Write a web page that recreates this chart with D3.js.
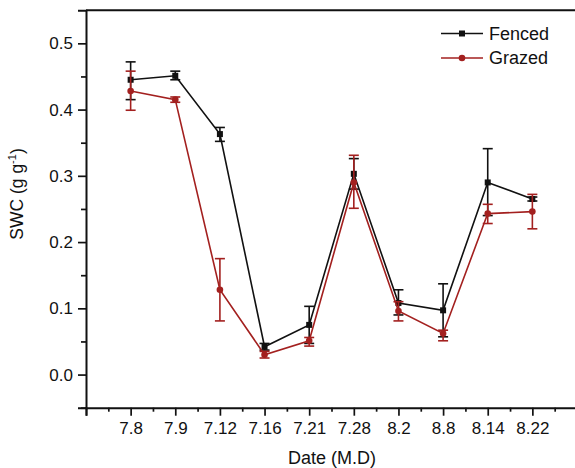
<!DOCTYPE html>
<html>
<head>
<meta charset="utf-8">
<script src="https://cdn.jsdelivr.net/npm/d3@7"></script>
<style>
  body { margin: 0; background: #fff; }
  text { font-family: "Liberation Sans", Arial, sans-serif; fill: #111; }
</style>
</head>
<body>
<svg id="chart" width="575" height="468"></svg>
<script>
// sampling dates (month.day)
var dates = ["7.8", "7.9", "7.12", "7.16", "7.21", "7.28", "8.2", "8.8", "8.14", "8.22"];

// SWC means and error bar ends
var fenced      = [0.445, 0.451, 0.363, 0.042, 0.075, 0.303, 0.108, 0.097, 0.290, 0.265];
var fencedHigh  = [0.472, 0.458, 0.373, 0.047, 0.103, 0.326, 0.128, 0.137, 0.341, 0.268];
var fencedLow   = [0.415, 0.445, 0.352, 0.037, 0.047, 0.280, 0.090, 0.057, 0.240, 0.262];

var grazed      = [0.428, 0.415, 0.128, 0.030, 0.051, 0.290, 0.096, 0.062, 0.243, 0.246];
var grazedHigh  = [0.458, 0.419, 0.175, 0.035, 0.056, 0.331, 0.110, 0.067, 0.257, 0.272];
var grazedLow   = [0.399, 0.411, 0.081, 0.025, 0.043, 0.251, 0.081, 0.051, 0.228, 0.220];

var yTicks = [0.0, 0.1, 0.2, 0.3, 0.4, 0.5];

var series = [
  {name: "Fenced", color: "#111111", shape: "square", mean: fenced, hi: fencedHigh, lo: fencedLow},
  {name: "Grazed", color: "#a3201f", shape: "circle", mean: grazed, hi: grazedHigh, lo: grazedLow}
];

var svg = d3.select("#chart");

var x = d3.scaleLinear().domain([-1, 10]).range([86, 577]);
var y = d3.scaleLinear().domain([-0.05, 0.55]).range([407.7, 10.2]);

// top frame line
svg.append("line")
  .attr("x1", 86).attr("x2", 575)
  .attr("y1", y(0.55)).attr("y2", y(0.55))
  .attr("stroke", "#111").attr("stroke-width", 2);

// x axis: major ticks at every date, minor ticks between
var xAxis = svg.append("g").attr("transform", "translate(0," + y(-0.05) + ")");
xAxis.call(d3.axisBottom(x)
  .tickValues(d3.range(-1, 11))
  .tickSize(8).tickPadding(6)
  .tickFormat(i => dates[i] || ""));
svg.append("g").attr("transform", "translate(0," + y(-0.05) + ")")
  .call(d3.axisBottom(x).tickValues(d3.range(-0.5, 10.5, 1)).tickSize(4).tickFormat(""))
  .select(".domain").remove();

// y axis
var yAxis = svg.append("g").attr("transform", "translate(86,0)");
yAxis.call(d3.axisLeft(y).tickValues(yTicks).tickSize(8).tickPadding(5).tickFormat(d3.format(".1f")));
svg.append("g").attr("transform", "translate(86,0)")
  .call(d3.axisLeft(y).tickValues([-0.05, 0.05, 0.15, 0.25, 0.35, 0.45]).tickSize(5).tickFormat(""))
  .select(".domain").remove();

svg.selectAll(".domain").attr("stroke", "#111").attr("stroke-width", 2);
svg.selectAll(".tick line").attr("stroke", "#111").attr("stroke-width", 1.7);
xAxis.selectAll(".tick text").style("font-size", "17px").attr("fill", "#111");
yAxis.selectAll(".tick text").style("font-size", "17px").attr("fill", "#111");

// axis titles
svg.append("text")
  .attr("x", 332).attr("y", 464)
  .attr("text-anchor", "middle")
  .style("font-size", "18px")
  .text("Date (M.D)");

var yt = svg.append("text")
  .attr("transform", "translate(23,194) rotate(-90)")
  .attr("text-anchor", "middle")
  .style("font-size", "17.5px");
yt.append("tspan").text("SWC (g g");
yt.append("tspan").attr("dy", -7).style("font-size", "11px").text("-1");
yt.append("tspan").attr("dy", 7).text(")");

// series
var line = d3.line().x((d, i) => x(i)).y(d => y(d));

series.forEach(function(s) {
  var g = svg.append("g");
  g.append("path")
    .datum(s.mean)
    .attr("d", line)
    .attr("fill", "none")
    .attr("stroke", s.color)
    .attr("stroke-width", 1.6);

  var eb = g.selectAll(".eb").data(s.mean).enter().append("g");
  eb.append("line")
    .attr("x1", (d, i) => x(i)).attr("x2", (d, i) => x(i))
    .attr("y1", (d, i) => y(s.hi[i])).attr("y2", (d, i) => y(s.lo[i]))
    .attr("stroke", s.color).attr("stroke-width", 1.6);
  [s.hi, s.lo].forEach(function(arr) {
    eb.append("line")
      .attr("x1", (d, i) => x(i) - 5).attr("x2", (d, i) => x(i) + 5)
      .attr("y1", (d, i) => y(arr[i])).attr("y2", (d, i) => y(arr[i]))
      .attr("stroke", s.color).attr("stroke-width", 1.6);
  });

  if (s.shape === "square") {
    g.selectAll(".m").data(s.mean).enter().append("rect")
      .attr("x", (d, i) => x(i) - 3).attr("y", d => y(d) - 3)
      .attr("width", 6).attr("height", 6)
      .attr("fill", s.color);
  } else {
    g.selectAll(".m").data(s.mean).enter().append("circle")
      .attr("cx", (d, i) => x(i)).attr("cy", d => y(d))
      .attr("r", 3.3)
      .attr("fill", s.color);
  }
});

// legend
var leg = svg.append("g");
series.forEach(function(s, k) {
  var ly = 33.5 + k * 24.5;
  leg.append("line")
    .attr("x1", 441).attr("x2", 483).attr("y1", ly).attr("y2", ly)
    .attr("stroke", s.color).attr("stroke-width", 1.6);
  if (s.shape === "square") {
    leg.append("rect").attr("x", 459).attr("y", ly - 3).attr("width", 6).attr("height", 6).attr("fill", s.color);
  } else {
    leg.append("circle").attr("cx", 462).attr("cy", ly).attr("r", 3.3).attr("fill", s.color);
  }
  leg.append("text")
    .attr("x", 489).attr("y", ly + 6)
    .style("font-size", "18px")
    .text(s.name);
});
</script>
</body>
</html>
